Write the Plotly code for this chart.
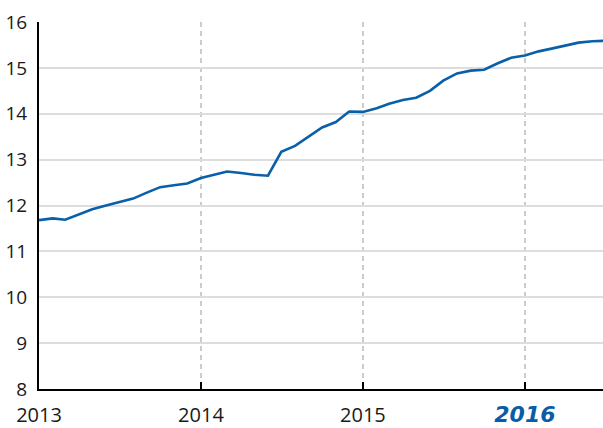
import plotly.graph_objects as go

# Monthly observations, Jan 2013 – Jul 2016
months = [
    "2013-01-01", "2013-02-01", "2013-03-01", "2013-04-01", "2013-05-01", "2013-06-01",
    "2013-07-01", "2013-08-01", "2013-09-01", "2013-10-01", "2013-11-01", "2013-12-01",
    "2014-01-01", "2014-02-01", "2014-03-01", "2014-04-01", "2014-05-01", "2014-06-01",
    "2014-07-01", "2014-08-01", "2014-09-01", "2014-10-01", "2014-11-01", "2014-12-01",
    "2015-01-01", "2015-02-01", "2015-03-01", "2015-04-01", "2015-05-01", "2015-06-01",
    "2015-07-01", "2015-08-01", "2015-09-01", "2015-10-01", "2015-11-01", "2015-12-01",
    "2016-01-01", "2016-02-01", "2016-03-01", "2016-04-01", "2016-05-01", "2016-06-01",
    "2016-07-01",
]
values = [
    11.68, 11.72, 11.69, 11.80, 11.92, 12.00,
    12.08, 12.15, 12.28, 12.40, 12.44, 12.48,
    12.60, 12.68, 12.74, 12.71, 12.67, 12.65,
    13.17, 13.30, 13.50, 13.70, 13.82, 14.05,
    14.04, 14.12, 14.22, 14.30, 14.35, 14.50,
    14.72, 14.88, 14.94, 14.96, 15.10, 15.22,
    15.27, 15.36, 15.42, 15.48, 15.55, 15.58,
    15.59,
]

year_ticks = ["2013-01-01", "2014-01-01", "2015-01-01", "2016-01-01"]
year_labels = [
    "2013", "2014", "2015",
    "<span style='color:#0a5ca8;font-family:DejaVu Sans;font-size:22px'>"
    "<b><i>2016</i></b></span>",
]
y_ticks = [8, 9, 10, 11, 12, 13, 14, 15, 16]

fig = go.Figure()
fig.add_trace(go.Scatter(
    x=months, y=values, mode="lines",
    line=dict(color="#0a60a8", width=2.6),
    hoverinfo="skip",
))

fig.update_layout(
    width=603, height=428,
    margin=dict(l=39, r=0, t=22, b=39, autoexpand=False),
    paper_bgcolor="white", plot_bgcolor="white",
    showlegend=False,
    font=dict(family="Open Sans", color="#1a1a1a"),
)

fig.update_xaxes(
    type="date",
    range=["2013-01-01", "2016-06-25"],
    tickvals=year_ticks, ticktext=year_labels,
    tickfont=dict(size=20, color="#1a1a1a"),
    showline=True, linecolor="black", linewidth=2,
    ticks="inside", ticklen=7, tickwidth=2, tickcolor="black",
    showgrid=True, gridcolor="#cccccc", gridwidth=1.5, griddash="5px,4px",
    ticklabelstandoff=7,
    zeroline=False, automargin=False,
)

fig.update_yaxes(
    range=[8, 16],
    tickvals=y_ticks,
    tickfont=dict(size=19, color="#1a1a1a"),
    showline=True, linecolor="black", linewidth=2,
    ticks="", ticklabelstandoff=6,
    showgrid=True, gridcolor="#dddddd", gridwidth=1.5,
    zeroline=False, automargin=False,
)

fig.write_html("out.html")
